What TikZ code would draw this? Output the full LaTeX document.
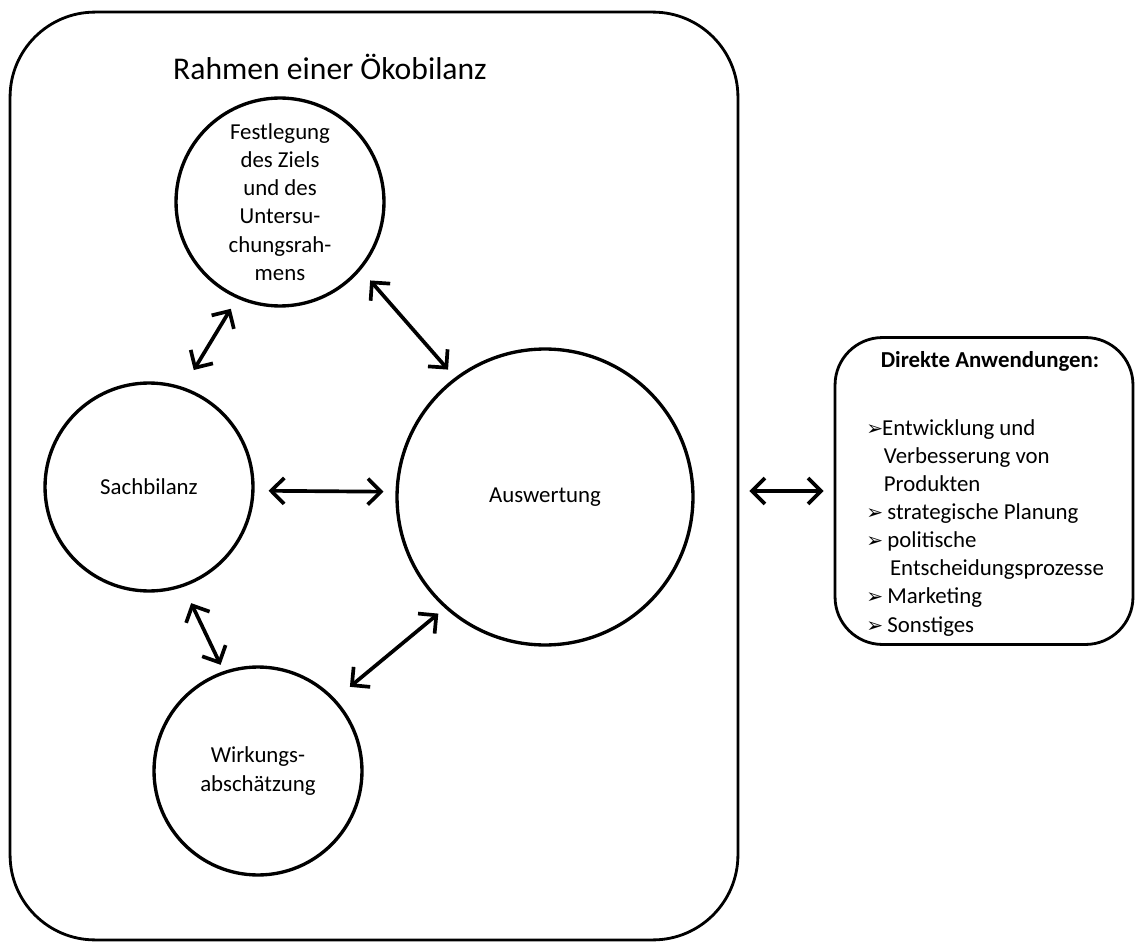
\documentclass[tikz,border=0pt]{standalone}
\usepackage{fontspec}
\setmainfont{Carlito}
\newfontfamily\pfeilfont{DejaVu Sans}
\usepackage{tikz}
\usetikzlibrary{arrows.meta,positioning}
\newcommand{\pfeil}{\makebox[9pt][l]{\pfeilfont\fontsize{11.5}{16}\selectfont ➢}}
\tikzset{
  rahmen/.style ={draw,line width=1.6pt,rounded corners=1.7cm,inner sep=0pt},
  phase/.style  ={circle,draw,line width=1.9pt,minimum size=4.16cm,inner sep=0pt,
                  align=center,font=\fontsize{13}{16}\selectfont},
  wechsel/.style={<->,>={Straight Barb[length=2.6mm,width=5.2mm]},line width=2.1pt},
  txt/.style    ={font=\fontsize{13}{16}\selectfont,inner sep=0pt},
}

\begin{document}
\begin{tikzpicture}[x=0.02cm,y=-0.02cm]
  \useasboundingbox (0,0) rectangle (1135,942);
  % Rahmen mit Titel
  \node[rahmen,minimum width=14.56cm,minimum height=18.56cm] (frame) at (374,476) {};
  \node[txt,font=\fontsize{18}{22}\selectfont] (titel) at (330,67) {Rahmen einer Ökobilanz};
  % die vier Phasen
  \node[phase] (ziel) at (280,202) {Festlegung\\des Ziels\\und des\\Untersu-\\chungsrah-\\mens};
  \node[phase] (sach) at (149,487) {Sachbilanz};
  \node[phase,minimum size=5.92cm] (ausw) at (545,497) {Auswertung};
  \node[phase] (wirk) at (258,771) {Wirkungs-\\abschätzung};
  % Wechselwirkungen zwischen den Phasen
  \draw[wechsel,shorten <=0.24cm,shorten >=0.40cm] (ziel.246) -- (sach.71);
  \draw[wechsel,shorten <=0.28cm,shorten >=0.21cm] (ziel.320) -- (ausw.127);
  \draw[wechsel,shorten <=0.28cm,shorten >=0.24cm] (sach.-2) -- (ausw.178);
  \draw[wechsel,shorten <=0.36cm,shorten >=0.14cm] (sach.289) -- (wirk.109);
  \draw[wechsel,shorten <=0.38cm,shorten >=0.17cm] (wirk.43) -- (ausw.228);
  % direkte Anwendungen
  \node[rahmen,rounded corners=0.95cm,minimum width=5.96cm,minimum height=6.14cm] (apps) at (984,491) {};
  \node[txt,font=\fontsize{13}{16}\selectfont\bfseries,anchor=base] (appstitel) at (990,367) {Direkte Anwendungen:};
  \node[txt,align=left,anchor=base west] (liste) at (866,632) {%
    \pfeil Entwicklung und\\
    \hspace*{10pt}Verbesserung von\\
    \hspace*{10pt}Produkten\\
    \pfeil\ strategische Planung\\
    \pfeil\ politische\\
    \hspace*{13.5pt}Entscheidungsprozesse\\
    \pfeil\ Marketing\\
    \pfeil\ Sonstiges};
  \draw[wechsel,shorten <=0.2cm,shorten >=0.2cm] (frame.east |- apps.west) -- (apps.west);
\end{tikzpicture}
\end{document}
